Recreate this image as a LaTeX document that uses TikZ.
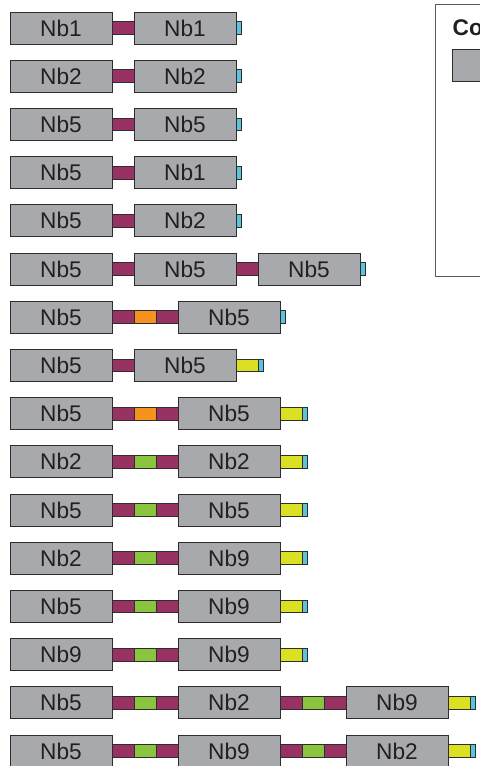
\documentclass[tikz,border=0pt]{standalone}
\usepackage{fontspec}
\setmainfont{Liberation Sans}
\usetikzlibrary{positioning}

\definecolor{domgray}{RGB}{167,169,173}
\definecolor{domedge}{RGB}{45,45,45}
\definecolor{domtext}{RGB}{35,31,32}
\definecolor{lnkred}{RGB}{152,50,98}
\definecolor{lnkorange}{RGB}{246,146,30}
\definecolor{lnkgreen}{RGB}{139,197,63}
\definecolor{tagyellow}{RGB}{220,224,34}
\definecolor{tagcyan}{RGB}{90,196,218}
\definecolor{keyedge}{RGB}{90,90,90}

\tikzset{
  part/.style={draw=domedge,line width=0.6pt,inner sep=0pt,outer sep=0pt},
  dom/.style={part,fill=domgray,minimum width=76.5pt,minimum height=24pt,
    text=domtext,font=\fontsize{17}{20}\selectfont},
  lnk/.style={part,fill=lnkred,minimum width=16.5pt,minimum height=9.5pt},
  orng/.style={lnk,fill=lnkorange},
  grn/.style={lnk,fill=lnkgreen},
  ylw/.style={lnk,fill=tagyellow},
  cyn/.style={part,fill=tagcyan,minimum width=4pt,minimum height=9.5pt}
}

\begin{document}
\begin{tikzpicture}[x=0.75pt,y=-0.75pt,node distance=0pt]
      \useasboundingbox (0,0) rectangle (479,766);
      % key, cut off at the right edge
      \node (keybox) [draw=keyedge,line width=0.8pt,anchor=north west,
      minimum width=150pt,minimum height=204pt] at (435,4) {};
      \node (keytitle) [anchor=base west,text=domtext,
      font=\fontsize{17}{20}\selectfont\bfseries] at (448,36) {Co};
      \node (keydom) [dom,anchor=north west] at (452,49) {};

      % two domains, one linker
      \node (aA) [dom,anchor=west] at (10,28) {Nb1}; \node (aL) [lnk,right=of aA] {};
      \node (aB) [dom,right=of aL] {Nb1}; \node (aT) [cyn,right=of aB] {};
      \node (bA) [dom,anchor=west] at (10,76.2) {Nb2}; \node (bL) [lnk,right=of bA] {};
      \node (bB) [dom,right=of bL] {Nb2}; \node (bT) [cyn,right=of bB] {};
      \node (cA) [dom,anchor=west] at (10,124.4) {Nb5}; \node (cL) [lnk,right=of cA] {};
      \node (cB) [dom,right=of cL] {Nb5}; \node (cT) [cyn,right=of cB] {};
      \node (dA) [dom,anchor=west] at (10,172.6) {Nb5}; \node (dL) [lnk,right=of dA] {};
      \node (dB) [dom,right=of dL] {Nb1}; \node (dT) [cyn,right=of dB] {};
      \node (eA) [dom,anchor=west] at (10,220.8) {Nb5}; \node (eL) [lnk,right=of eA] {};
      \node (eB) [dom,right=of eL] {Nb2}; \node (eT) [cyn,right=of eB] {};

      % three domains
      \node (fA) [dom,anchor=west] at (10,269) {Nb5}; \node (fL) [lnk,right=of fA] {};
      \node (fB) [dom,right=of fL] {Nb5}; \node (fM) [lnk,right=of fB] {};
      \node (fC) [dom,right=of fM] {Nb5}; \node (fT) [cyn,right=of fC] {};

      % orange spacer
      \node (gA) [dom,anchor=west] at (10,317.2) {Nb5}; \node (gL) [lnk,right=of gA] {};
      \node (gS) [orng,right=of gL] {}; \node (gR) [lnk,right=of gS] {};
      \node (gB) [dom,right=of gR] {Nb5}; \node (gT) [cyn,right=of gB] {};

      % yellow tag
      \node (hA) [dom,anchor=west] at (10,365.4) {Nb5}; \node (hL) [lnk,right=of hA] {};
      \node (hB) [dom,right=of hL] {Nb5}; \node (hY) [ylw,right=of hB] {};
      \node (hT) [cyn,right=of hY] {};
      \node (iA) [dom,anchor=west] at (10,413.6) {Nb5}; \node (iL) [lnk,right=of iA] {};
      \node (iS) [orng,right=of iL] {}; \node (iR) [lnk,right=of iS] {};
      \node (iB) [dom,right=of iR] {Nb5}; \node (iY) [ylw,right=of iB] {};
      \node (iT) [cyn,right=of iY] {};

      % green spacer
      \node (jA) [dom,anchor=west] at (10,461.8) {Nb2}; \node (jL) [lnk,right=of jA] {};
      \node (jS) [grn,right=of jL] {}; \node (jR) [lnk,right=of jS] {};
      \node (jB) [dom,right=of jR] {Nb2}; \node (jY) [ylw,right=of jB] {};
      \node (jT) [cyn,right=of jY] {};
      \node (kA) [dom,anchor=west] at (10,510) {Nb5}; \node (kL) [lnk,right=of kA] {};
      \node (kS) [grn,right=of kL] {}; \node (kR) [lnk,right=of kS] {};
      \node (kB) [dom,right=of kR] {Nb5}; \node (kY) [ylw,right=of kB] {};
      \node (kT) [cyn,right=of kY] {};
      \node (lA) [dom,anchor=west] at (10,558.2) {Nb2}; \node (lL) [lnk,right=of lA] {};
      \node (lS) [grn,right=of lL] {}; \node (lR) [lnk,right=of lS] {};
      \node (lB) [dom,right=of lR] {Nb9}; \node (lY) [ylw,right=of lB] {};
      \node (lT) [cyn,right=of lY] {};
      \node (mA) [dom,anchor=west] at (10,606.4) {Nb5}; \node (mL) [lnk,right=of mA] {};
      \node (mS) [grn,right=of mL] {}; \node (mR) [lnk,right=of mS] {};
      \node (mB) [dom,right=of mR] {Nb9}; \node (mY) [ylw,right=of mB] {};
      \node (mT) [cyn,right=of mY] {};
      \node (nA) [dom,anchor=west] at (10,654.6) {Nb9}; \node (nL) [lnk,right=of nA] {};
      \node (nS) [grn,right=of nL] {}; \node (nR) [lnk,right=of nS] {};
      \node (nB) [dom,right=of nR] {Nb9}; \node (nY) [ylw,right=of nB] {};
      \node (nT) [cyn,right=of nY] {};

      % three domains, green spacers
      \node (oA) [dom,anchor=west] at (10,702.8) {Nb5}; \node (oL) [lnk,right=of oA] {};
      \node (oS) [grn,right=of oL] {}; \node (oR) [lnk,right=of oS] {};
      \node (oB) [dom,right=of oR] {Nb2}; \node (oL2) [lnk,right=of oB] {};
      \node (oS2) [grn,right=of oL2] {}; \node (oR2) [lnk,right=of oS2] {};
      \node (oC) [dom,right=of oR2] {Nb9}; \node (oY) [ylw,right=of oC] {};
      \node (oT) [cyn,right=of oY] {};
      \node (pA) [dom,anchor=west] at (10,751) {Nb5}; \node (pL) [lnk,right=of pA] {};
      \node (pS) [grn,right=of pL] {}; \node (pR) [lnk,right=of pS] {};
      \node (pB) [dom,right=of pR] {Nb9}; \node (pL2) [lnk,right=of pB] {};
      \node (pS2) [grn,right=of pL2] {}; \node (pR2) [lnk,right=of pS2] {};
      \node (pC) [dom,right=of pR2] {Nb2}; \node (pY) [ylw,right=of pC] {};
      \node (pT) [cyn,right=of pY] {};
    \end{tikzpicture}
\end{document}
